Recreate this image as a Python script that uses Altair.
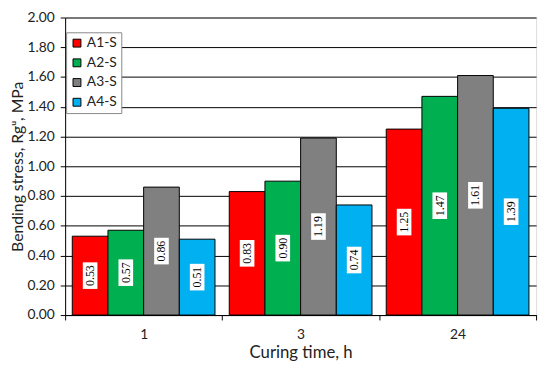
import altair as alt
import pandas as pd

times = ["1", "3", "24"]
series = ["A1-S", "A2-S", "A3-S", "A4-S"]
values = {
    "A1-S": [0.53, 0.83, 1.25],
    "A2-S": [0.57, 0.90, 1.47],
    "A3-S": [0.86, 1.19, 1.61],
    "A4-S": [0.51, 0.74, 1.39],
}
colors = ["#FF0000", "#00B050", "#808080", "#00B0F0"]
y_ticks = [0.0, 0.2, 0.4, 0.6, 0.8, 1.0, 1.2, 1.4, 1.6, 1.8, 2.0]

rows = []
for s in series:
    for t, v in zip(times, values[s]):
        rows.append({"time": t, "series": s, "value": v, "half": v / 2, "label": f"{v:.2f}"})
df = pd.DataFrame(rows)

FONT = "Lato"

x = alt.X("time:N", sort=times, title="Curing time, h",
          scale=alt.Scale(paddingInner=0, paddingOuter=0),
          axis=alt.Axis(labelAngle=0, tickBand="extent", tickSize=5, tickColor="black",
                        domainColor="black", labelFontSize=14, labelFont=FONT,
                        labelColor="#222", labelPadding=8, titleFontSize=17,
                        titleFont=FONT, titleFontWeight="normal", titleColor="#222",
                        titlePadding=3))
xo = alt.XOffset("series:N", sort=series, scale=alt.Scale(paddingInner=0, paddingOuter=0.2))

y_scale = alt.Scale(domain=[0, 2])
y_axis = alt.Axis(values=y_ticks, format=".2f", tickSize=5, labelOverlap=False,
                  tickColor="black", domainColor="black", gridColor="black",
                  gridWidth=1, labelFontSize=14, labelFont=FONT,
                  labelColor="#222", labelPadding=6, titleFontSize=16,
                  titleFont=FONT, titleFontWeight="normal", titleColor="#222",
                  titlePadding=2)
Y_TITLE = "Bending stress, Rgᵘ, MPa"

bars = alt.Chart(df).mark_bar(stroke="black", strokeWidth=1).encode(
    x=x,
    xOffset=xo,
    y=alt.Y("value:Q", title=Y_TITLE, scale=y_scale, axis=y_axis),
    color=alt.Color("series:N", sort=series,
                    scale=alt.Scale(domain=series, range=colors),
                    legend=alt.Legend(title=None, orient="none", legendX=1, legendY=15,
                                      symbolType="square", symbolSize=64,
                                      symbolStrokeColor="black", symbolStrokeWidth=1,
                                      labelFontSize=14, labelFont=FONT, labelColor="#222",
                                      strokeColor="#888", fillColor="white",
                                      padding=4, rowPadding=6, labelOffset=3)),
)

boxes = alt.Chart(df).mark_point(
    shape="M-0.55,-1H0.55V1H-0.55Z", size=729, filled=True, fill="white",
    opacity=1, strokeWidth=0
).encode(x=x, xOffset=xo, y=alt.Y("half:Q", title=Y_TITLE, scale=y_scale, axis=y_axis))

labels = alt.Chart(df).mark_text(
    font="Liberation Serif", fontSize=12, angle=270, align="center",
    baseline="middle", color="black"
).encode(x=x, xOffset=xo, y=alt.Y("half:Q", title=Y_TITLE, scale=y_scale, axis=y_axis),
         text="label:N")

chart = alt.layer(bars, boxes, labels).properties(
    width=478, height=302,
    autosize=alt.AutoSizeParams(type="none"),
    padding={"left": 58, "top": 7, "right": 6, "bottom": 46},
).configure_view(stroke="black", strokeWidth=1).configure(background="white")

chart.save("out.html", embed_options={"renderer": "svg", "actions": False})
